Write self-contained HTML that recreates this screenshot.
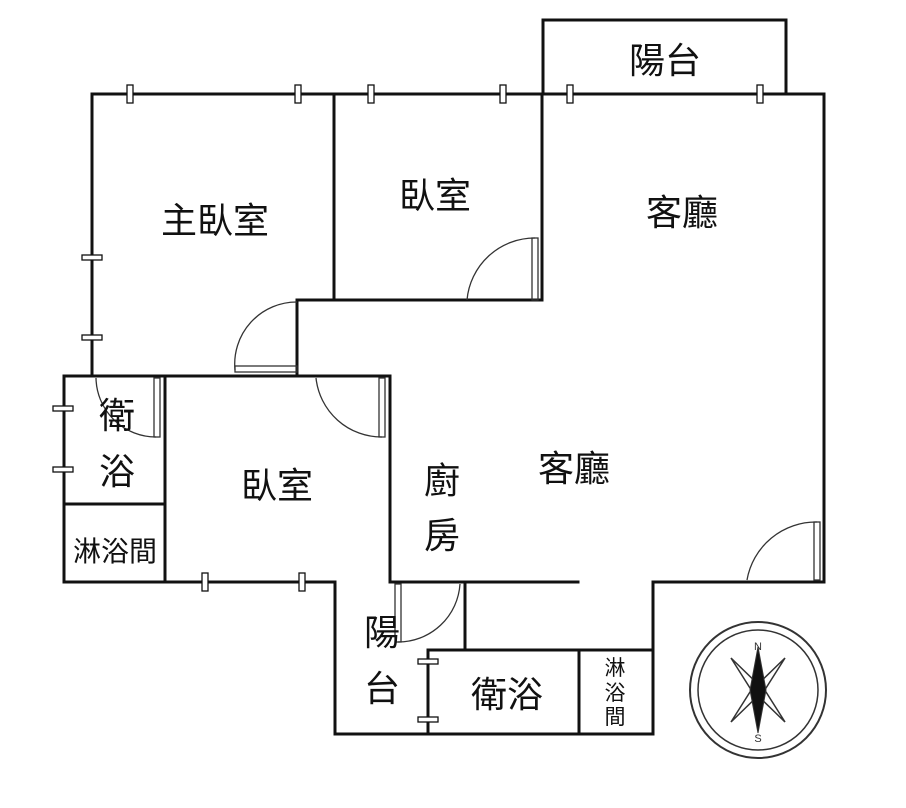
<!DOCTYPE html>
<html><head><meta charset="utf-8"><style>
body{margin:0;background:#fff;width:906px;height:808px;overflow:hidden}
svg{position:absolute;left:0;top:0}
text{font-family:"Liberation Sans","Noto Sans CJK TC",sans-serif;fill:#111;text-anchor:middle}
</style></head><body>
<svg width="906" height="808" viewBox="0 0 906 808">
<g stroke="#111" stroke-width="3" fill="none" stroke-linecap="square">
<path d="M92 94H824V582H653V734H335V582H64V376H92V94"/>
<path d="M543 94V20H786V94"/>
<path d="M334 94V300M542 94V300M297 300H542M297 300V376"/>
<path d="M64 376H390V582M165 376V582M64 504H165"/>
<path d="M390 582H578"/>
<path d="M465 582V650M428 650H653M428 650V734M579 650V734"/>
</g>
<g stroke="#111" stroke-width="1.3" fill="#fff">
<rect x="127" y="85" width="6" height="18"/><rect x="295" y="85" width="6" height="18"/>
<rect x="368" y="85" width="6" height="18"/><rect x="500" y="85" width="6" height="18"/>
<rect x="567" y="85" width="6" height="18"/><rect x="757" y="85" width="6" height="18"/>
<rect x="82" y="255" width="20" height="5"/><rect x="82" y="335" width="20" height="5"/>
<rect x="53" y="406" width="20" height="5"/><rect x="53" y="467" width="20" height="5"/>
<rect x="202" y="573" width="6" height="18"/><rect x="299" y="573" width="6" height="18"/>
<rect x="418" y="659" width="20" height="5"/><rect x="418" y="717" width="20" height="5"/>
</g>
<g stroke="#333" stroke-width="1.3" fill="none">
<path d="M235 370A62 62 0 0 1 297 302"/><rect x="235" y="366" width="62" height="6"/>
<path d="M467 300A68 68 0 0 1 535 238"/><rect x="532" y="238" width="6" height="62"/>
<path d="M316 378A66 66 0 0 0 382 437"/><rect x="379" y="378" width="6" height="59"/>
<path d="M96 378A60 60 0 0 0 156 437"/><rect x="154" y="378" width="6" height="59"/>
<path d="M747 580A70 70 0 0 1 817 522"/><rect x="814" y="522" width="6" height="58"/>
<path d="M398 642A62 62 0 0 0 460 584"/><rect x="395" y="584" width="6" height="58"/>
</g>
<g stroke="#333" fill="none">
<circle cx="758" cy="690" r="68" stroke-width="2"/><circle cx="758" cy="690" r="60" stroke-width="1.5"/>
<path d="M731 658L766 692L785 722L750 688Z M785 658L750 692L731 722L766 688Z" stroke-width="1.5"/>
<path d="M758 647L766 690L758 733L750 690Z" fill="#111"/>
</g>
<text x="758" y="650" font-size="11" style="fill:#333">N</text>
<text x="758" y="742" font-size="11" style="fill:#333">S</text>
<g font-size="36">
<text x="665" y="73">陽台</text>
<text x="215" y="233">主臥室</text>
<text x="435" y="208">臥室</text>
<text x="682" y="225">客廳</text>
<text x="574" y="481">客廳</text>
<text x="277" y="498">臥室</text>
<text x="442" y="493">廚</text><text x="442" y="548">房</text>
<text x="117" y="428">衛</text><text x="117" y="484">浴</text>
<text x="382" y="645">陽</text><text x="382" y="701">台</text>
<text x="507" y="707">衛浴</text>
</g>
<text x="115" y="561" font-size="28">淋浴間</text>
<g font-size="21"><text x="615" y="675">淋</text><text x="615" y="700">浴</text><text x="615" y="724">間</text></g>
</svg>
</body></html>
